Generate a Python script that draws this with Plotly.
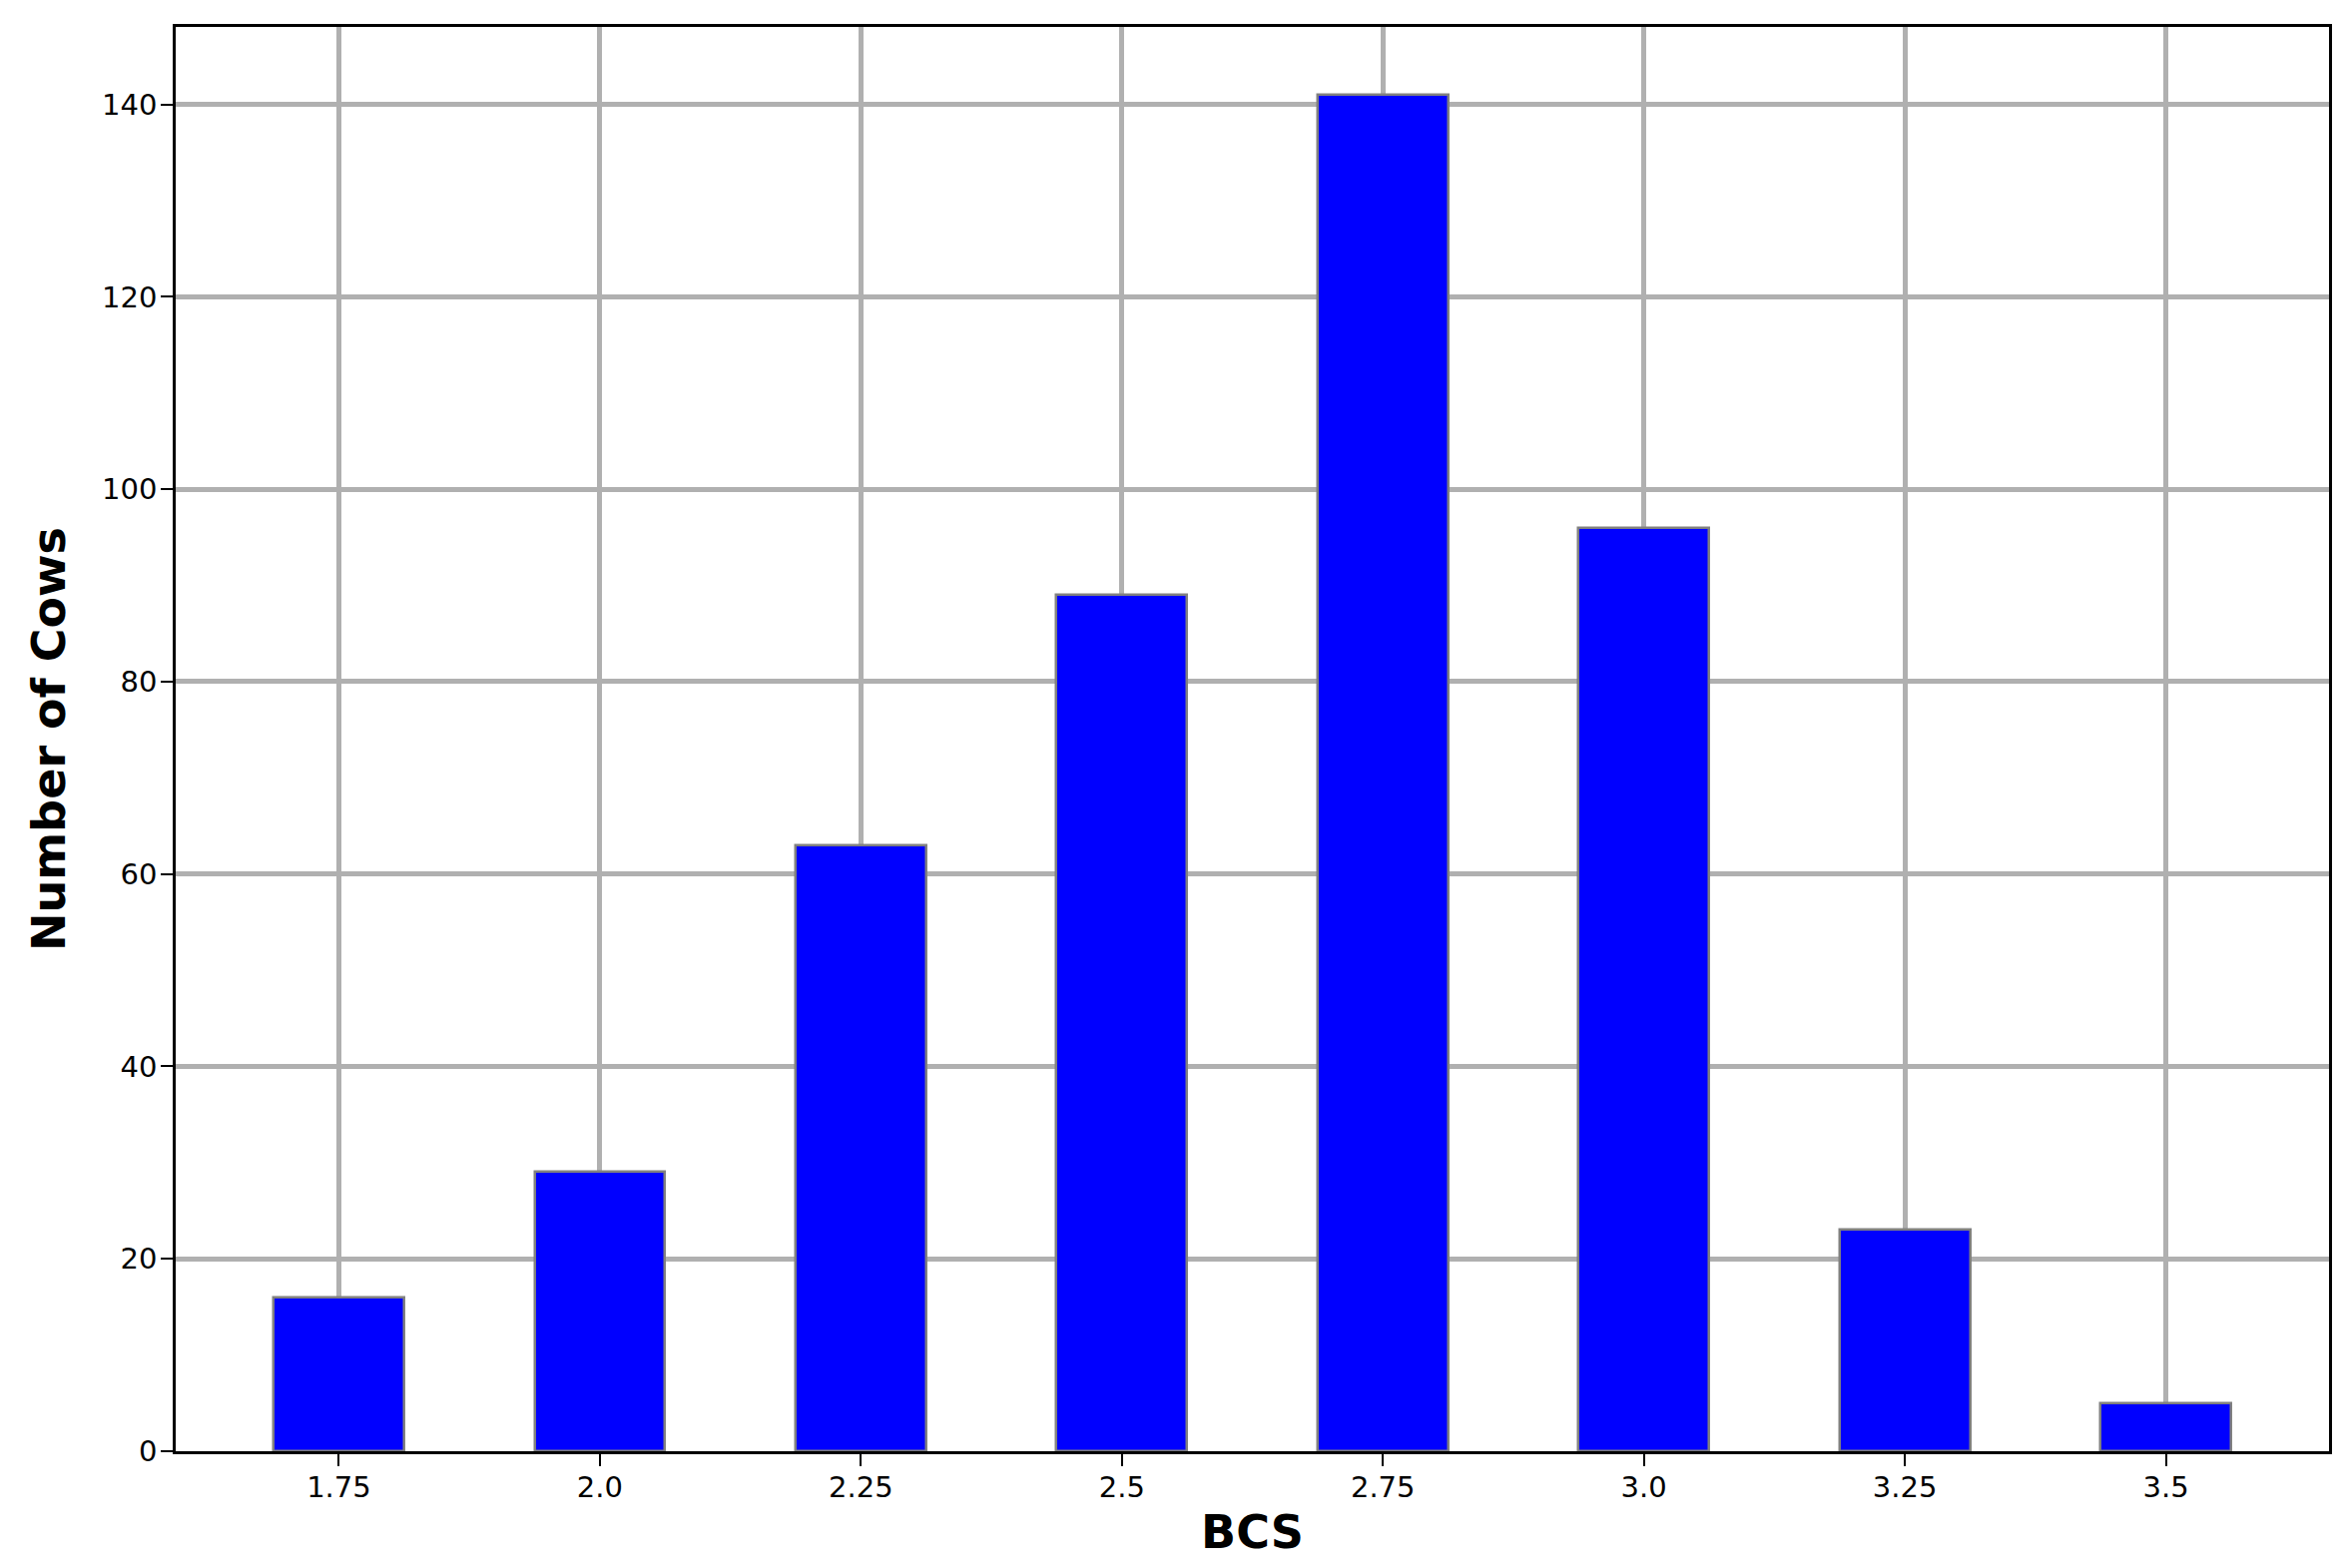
import plotly.graph_objects as go

# BCS score distribution
bcs_labels = ["1.75", "2.0", "2.25", "2.5", "2.75", "3.0", "3.25", "3.5"]
cow_counts = [16, 29, 63, 89, 141, 96, 23, 5]
y_ticks = [0, 20, 40, 60, 80, 100, 120, 140]

FONT = "DejaVu Sans"
GRID = "#b0b0b0"

fig = go.Figure()

fig.add_trace(
    go.Bar(
        x=bcs_labels,
        y=cow_counts,
        width=0.5,
        marker=dict(color="#0000ff", line=dict(color="#808080", width=2.5)),
        hovertemplate="BCS %{x}<br>%{y} cows<extra></extra>",
    )
)

axis_common = dict(
    showline=True,
    linecolor="black",
    linewidth=2.5,
    mirror=True,
    ticks="outside",
    ticklen=12,
    tickwidth=2,
    tickcolor="black",
    showgrid=True,
    gridcolor=GRID,
    gridwidth=5,
    zeroline=False,
    tickfont=dict(family=FONT, size=29, color="black"),
)

fig.update_xaxes(
    **axis_common,
    type="category",
    range=[-0.625, len(bcs_labels) - 1 + 0.625],
    ticklabelstandoff=-4,
    title=dict(text="<b>BCS</b>", font=dict(family=FONT, size=46, color="black"), standoff=14),
)
fig.update_yaxes(
    **axis_common,
    range=[0, max(cow_counts) * 1.05],
    tickvals=y_ticks,
    ticklabelstandoff=-2,
    title=dict(
        text="<b>Number of Cows</b>", font=dict(family=FONT, size=46, color="black"), standoff=22
    ),
)

# page body has an 8px default margin, so the margins are trimmed to match
fig.update_layout(
    width=2351,
    height=1571,
    margin=dict(l=168, r=26, t=19, b=125, autoexpand=False),
    paper_bgcolor="white",
    plot_bgcolor="white",
    showlegend=False,
    bargap=0,
)

fig.write_html("out.html")
